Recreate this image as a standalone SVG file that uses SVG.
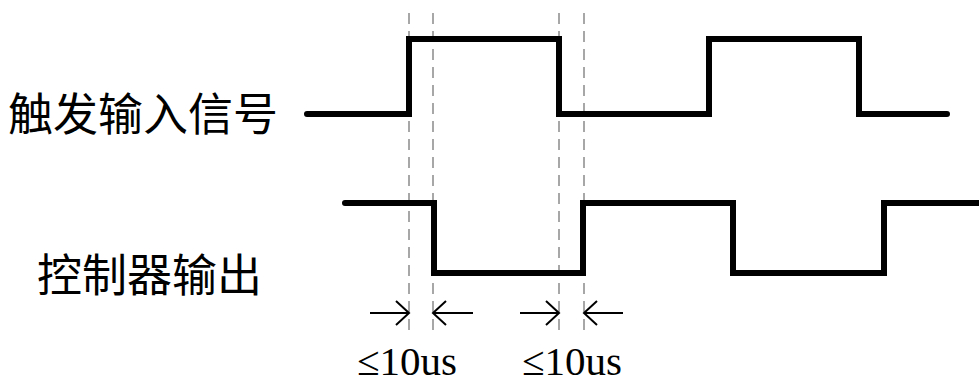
<svg xmlns="http://www.w3.org/2000/svg" width="979" height="385" viewBox="0 0 979 385">
<style>
.sig{fill:none;stroke:#000;stroke-width:6;stroke-linecap:round;stroke-linejoin:miter}
.dash{stroke:#8a8a8a;stroke-width:1.5;stroke-dasharray:11 7}
.arr{fill:none;stroke:#000;stroke-width:2}
.cjk{font-family:"Noto Sans CJK SC","Noto Sans",sans-serif;font-size:45px;fill:#000}
.lbl{font-family:"Liberation Serif","Times New Roman",serif;font-size:41px;fill:#000}
</style>
<rect width="979" height="385" fill="#fff"/>
<g id="guides">
<line class="dash" x1="409" y1="13" x2="409" y2="332"/>
<line class="dash" x1="433" y1="13" x2="433" y2="332"/>
<line class="dash" x1="559" y1="13" x2="559" y2="332"/>
<line class="dash" x1="584" y1="13" x2="584" y2="332"/>
</g>
<g id="trigger">
<text class="cjk" x="8" y="131">触发输入信号</text>
<path class="sig" d="M307,114 H409 V39 H559 V114 H709 V39 H859 V114 H947"/>
</g>
<g id="output">
<text class="cjk" x="37" y="292" font-size="44">控制器输出</text>
<path class="sig" d="M345,203 H434 V273 H583 V203 H733 V273 H884 V203 H982"/>
</g>
<g id="connectors">
<path class="arr" d="M370,313 H409 M396,301 L409,313 L396,325"/>
<path class="arr" d="M473,313 H433 M446,301 L433,313 L446,325"/>
<path class="arr" d="M520,313 H559 M546,301 L559,313 L546,325"/>
<path class="arr" d="M623,313 H584 M597,301 L584,313 L597,325"/>
</g>
<g id="labels">
<text class="lbl" x="357" y="375">≤10us</text>
<text class="lbl" x="522" y="375">≤10us</text>
</g>
</svg>
